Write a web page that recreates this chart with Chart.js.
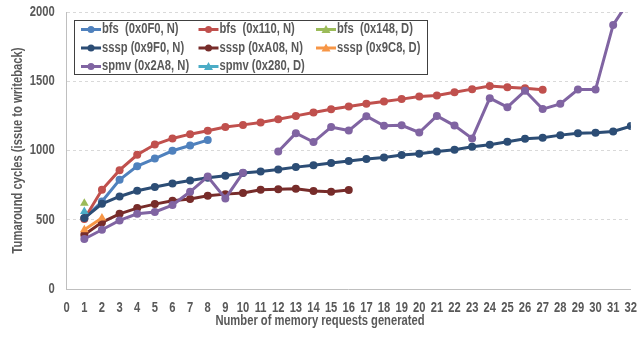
<!DOCTYPE html>
<html>
<head>
<meta charset="utf-8">
<script src="https://cdn.jsdelivr.net/npm/chart.js@4.4.1/dist/chart.umd.min.js"></script>
<style>
  html, body { margin: 0; padding: 0; background: #fff; }
  #wrap { width: 638px; height: 339px; }
</style>
</head>
<body>
<div id="wrap"><canvas id="grafico"></canvas></div>
<script>
// dados
const requests = [1, 2, 3, 4, 5, 6, 7, 8, 9, 10, 11, 12, 13, 14, 15, 16, 17, 18, 19, 20, 21, 22, 23, 24, 25, 26, 27, 28, 29, 30, 31, 32];
const yTicks = [0, 500, 1000, 1500, 2000];

const bfs0F0 = [510, 632, 789, 887, 942, 998, 1036, 1075];
const bfs110 = [505, 716, 858, 969, 1043, 1087, 1118, 1142, 1169, 1185, 1202, 1226, 1250, 1274, 1298, 1317, 1337, 1353, 1371, 1390, 1397, 1421, 1443, 1465, 1457, 1450, 1438];
const bfs148 = [620];
const sssp9F0 = [512, 615, 668, 709, 736, 762, 784, 803, 817, 837, 849, 863, 880, 894, 909, 925, 938, 950, 967, 976, 993, 1005, 1027, 1041, 1063, 1084, 1092, 1111, 1125, 1128, 1137, 1176];
const ssspA08 = [392, 481, 543, 584, 613, 637, 650, 673, 685, 693, 716, 721, 724, 707, 702, 714];
const sssp9C8 = [428, 512];
const spmv2A8 = [361, 428, 495, 543, 556, 606, 702, 812, 654, 839, null, 993, 1125, 1061, 1169, 1144, 1248, 1178, 1182, 1130, 1250, 1180, 1087, 1378, 1313, 1431, 1299, 1337, 1440, 1440, 1907, 2100];
const spmv280 = [560];

const fonte = "'Liberation Sans', Arial, sans-serif";
const cinza = '#595959';

function pontos(valores) {
    return valores.map((v, i) => ({ x: requests[i], y: v }));
}

function serie(label, valores, cor, estilo, i) {
    return {
        label: label,
        data: pontos(valores),
        borderColor: cor,
        backgroundColor: cor,
        borderWidth: 3,
        pointStyle: estilo,
        pointRadius: estilo === 'triangle' ? 5 : 4,
        pointBorderWidth: 0,
        spanGaps: false,
        order: 10 - i
    };
}

const dadosChart = {
    datasets: [
        serie('bfs  (0x0F0, N)', bfs0F0, '#4F81BD', 'circle', 0),
        serie('bfs  (0x110, N)', bfs110, '#C0504D', 'circle', 1),
        serie('bfs  (0x148, D)', bfs148, '#9BBB59', 'triangle', 2),
        serie('sssp (0x9F0, N)', sssp9F0, '#2C4D75', 'circle', 3),
        serie('sssp (0xA08, N)', ssspA08, '#772C2A', 'circle', 4),
        serie('sssp (0x9C8, D)', sssp9C8, '#F79646', 'triangle', 5),
        serie('spmv (0x2A8, N)', spmv2A8, '#8064A2', 'circle', 6),
        serie('spmv (0x280, D)', spmv280, '#4BACC6', 'triangle', 7)
    ]
};

// legenda dentro do grafico + titulo do eixo x
const legendaPlugin = {
    id: 'legendaDentro',
    afterDraw(chart) {
        const ctx = chart.ctx;
        ctx.save();
        ctx.fillStyle = '#fff';
        ctx.fillRect(74.5, 20.5, 353, 54);
        ctx.strokeStyle = '#404040';
        ctx.lineWidth = 1;
        ctx.strokeRect(74.5, 20.5, 353, 54);
        ctx.font = 'bold 14px ' + fonte;
        ctx.textBaseline = 'middle';
        chart.data.datasets.forEach((ds, i) => {
            const col = i % 3, row = Math.floor(i / 3);
            const x = 81 + col * 117.5;
            const y = 29.5 + row * 18.5;
            ctx.strokeStyle = ds.borderColor;
            ctx.lineWidth = 3;
            ctx.beginPath();
            ctx.moveTo(x, y);
            ctx.lineTo(x + 20, y);
            ctx.stroke();
            ctx.fillStyle = ds.borderColor;
            ctx.beginPath();
            if (ds.pointStyle === 'triangle') {
                ctx.moveTo(x + 10, y - 4.5);
                ctx.lineTo(x + 14.5, y + 3.5);
                ctx.lineTo(x + 5.5, y + 3.5);
                ctx.closePath();
            } else {
                ctx.arc(x + 10, y, 3.5, 0, Math.PI * 2);
            }
            ctx.fill();
            ctx.fillStyle = cinza;
            ctx.textAlign = 'left';
            ctx.fillText(ds.label, x + 21, y);
        });
        ctx.textAlign = 'center';
        ctx.fillText('Number of memory requests generated', 320, 321);
        ctx.restore();
    }
};

const configGrafico = {
    type: 'line',
    data: dadosChart,
    options: {
        responsive: true,
        maintainAspectRatio: false,
        animation: false,
        layout: { padding: { top: 12, right: 7.2, left: 0, bottom: 0 } },
        scales: {
            x: {
                type: 'linear',
                min: 0,
                max: 32,
                afterFit: (s) => { s.height = 50; s.paddingLeft = 0; s.paddingRight = 0; },
                ticks: {
                    stepSize: 1,
                    autoSkip: false,
                    maxRotation: 0,
                    padding: 11,
                    color: cinza,
                    font: { size: 14, weight: 'bold', family: fonte }
                },
                grid: { drawOnChartArea: false, drawTicks: false },
                border: { display: true, color: '#bfbfbf', width: 1 }
            },
            y: {
                min: 0,
                max: 2000,
                afterFit: (s) => { s.width = 66.7; s.paddingTop = 0; s.paddingBottom = 0; },
                afterBuildTicks: (s) => { s.ticks = yTicks.map(v => ({ value: v })); },
                ticks: {
                    padding: 12,
                    color: cinza,
                    callback: (v) => String(v),
                    font: { size: 14, weight: 'bold', family: fonte }
                },
                grid: { color: '#d9d9d9', drawTicks: false },
                border: { display: true, color: '#bfbfbf', width: 1, dash: [3, 3] },
                title: {
                    display: true,
                    text: 'Tumaround cycles (issue to writeback)',
                    color: cinza,
                    padding: { top: 10, bottom: 0 },
                    font: { size: 14, weight: 'bold', family: fonte }
                }
            }
        },
        plugins: {
            legend: { display: false },
            tooltip: { enabled: false }
        }
    },
    plugins: [legendaPlugin]
};

const ctxGrafico = document.getElementById('grafico').getContext('2d');
// sem fonte "narrow" instalada: texto estreitado na horizontal
ctxGrafico.fillText = function (texto, x, y, maxW) {
    this.save();
    this.translate(x, y);
    this.scale(0.8, 1);
    CanvasRenderingContext2D.prototype.fillText.call(this, texto, 0, 0);
    this.restore();
};
new Chart(ctxGrafico, configGrafico);
</script>
</body>
</html>
